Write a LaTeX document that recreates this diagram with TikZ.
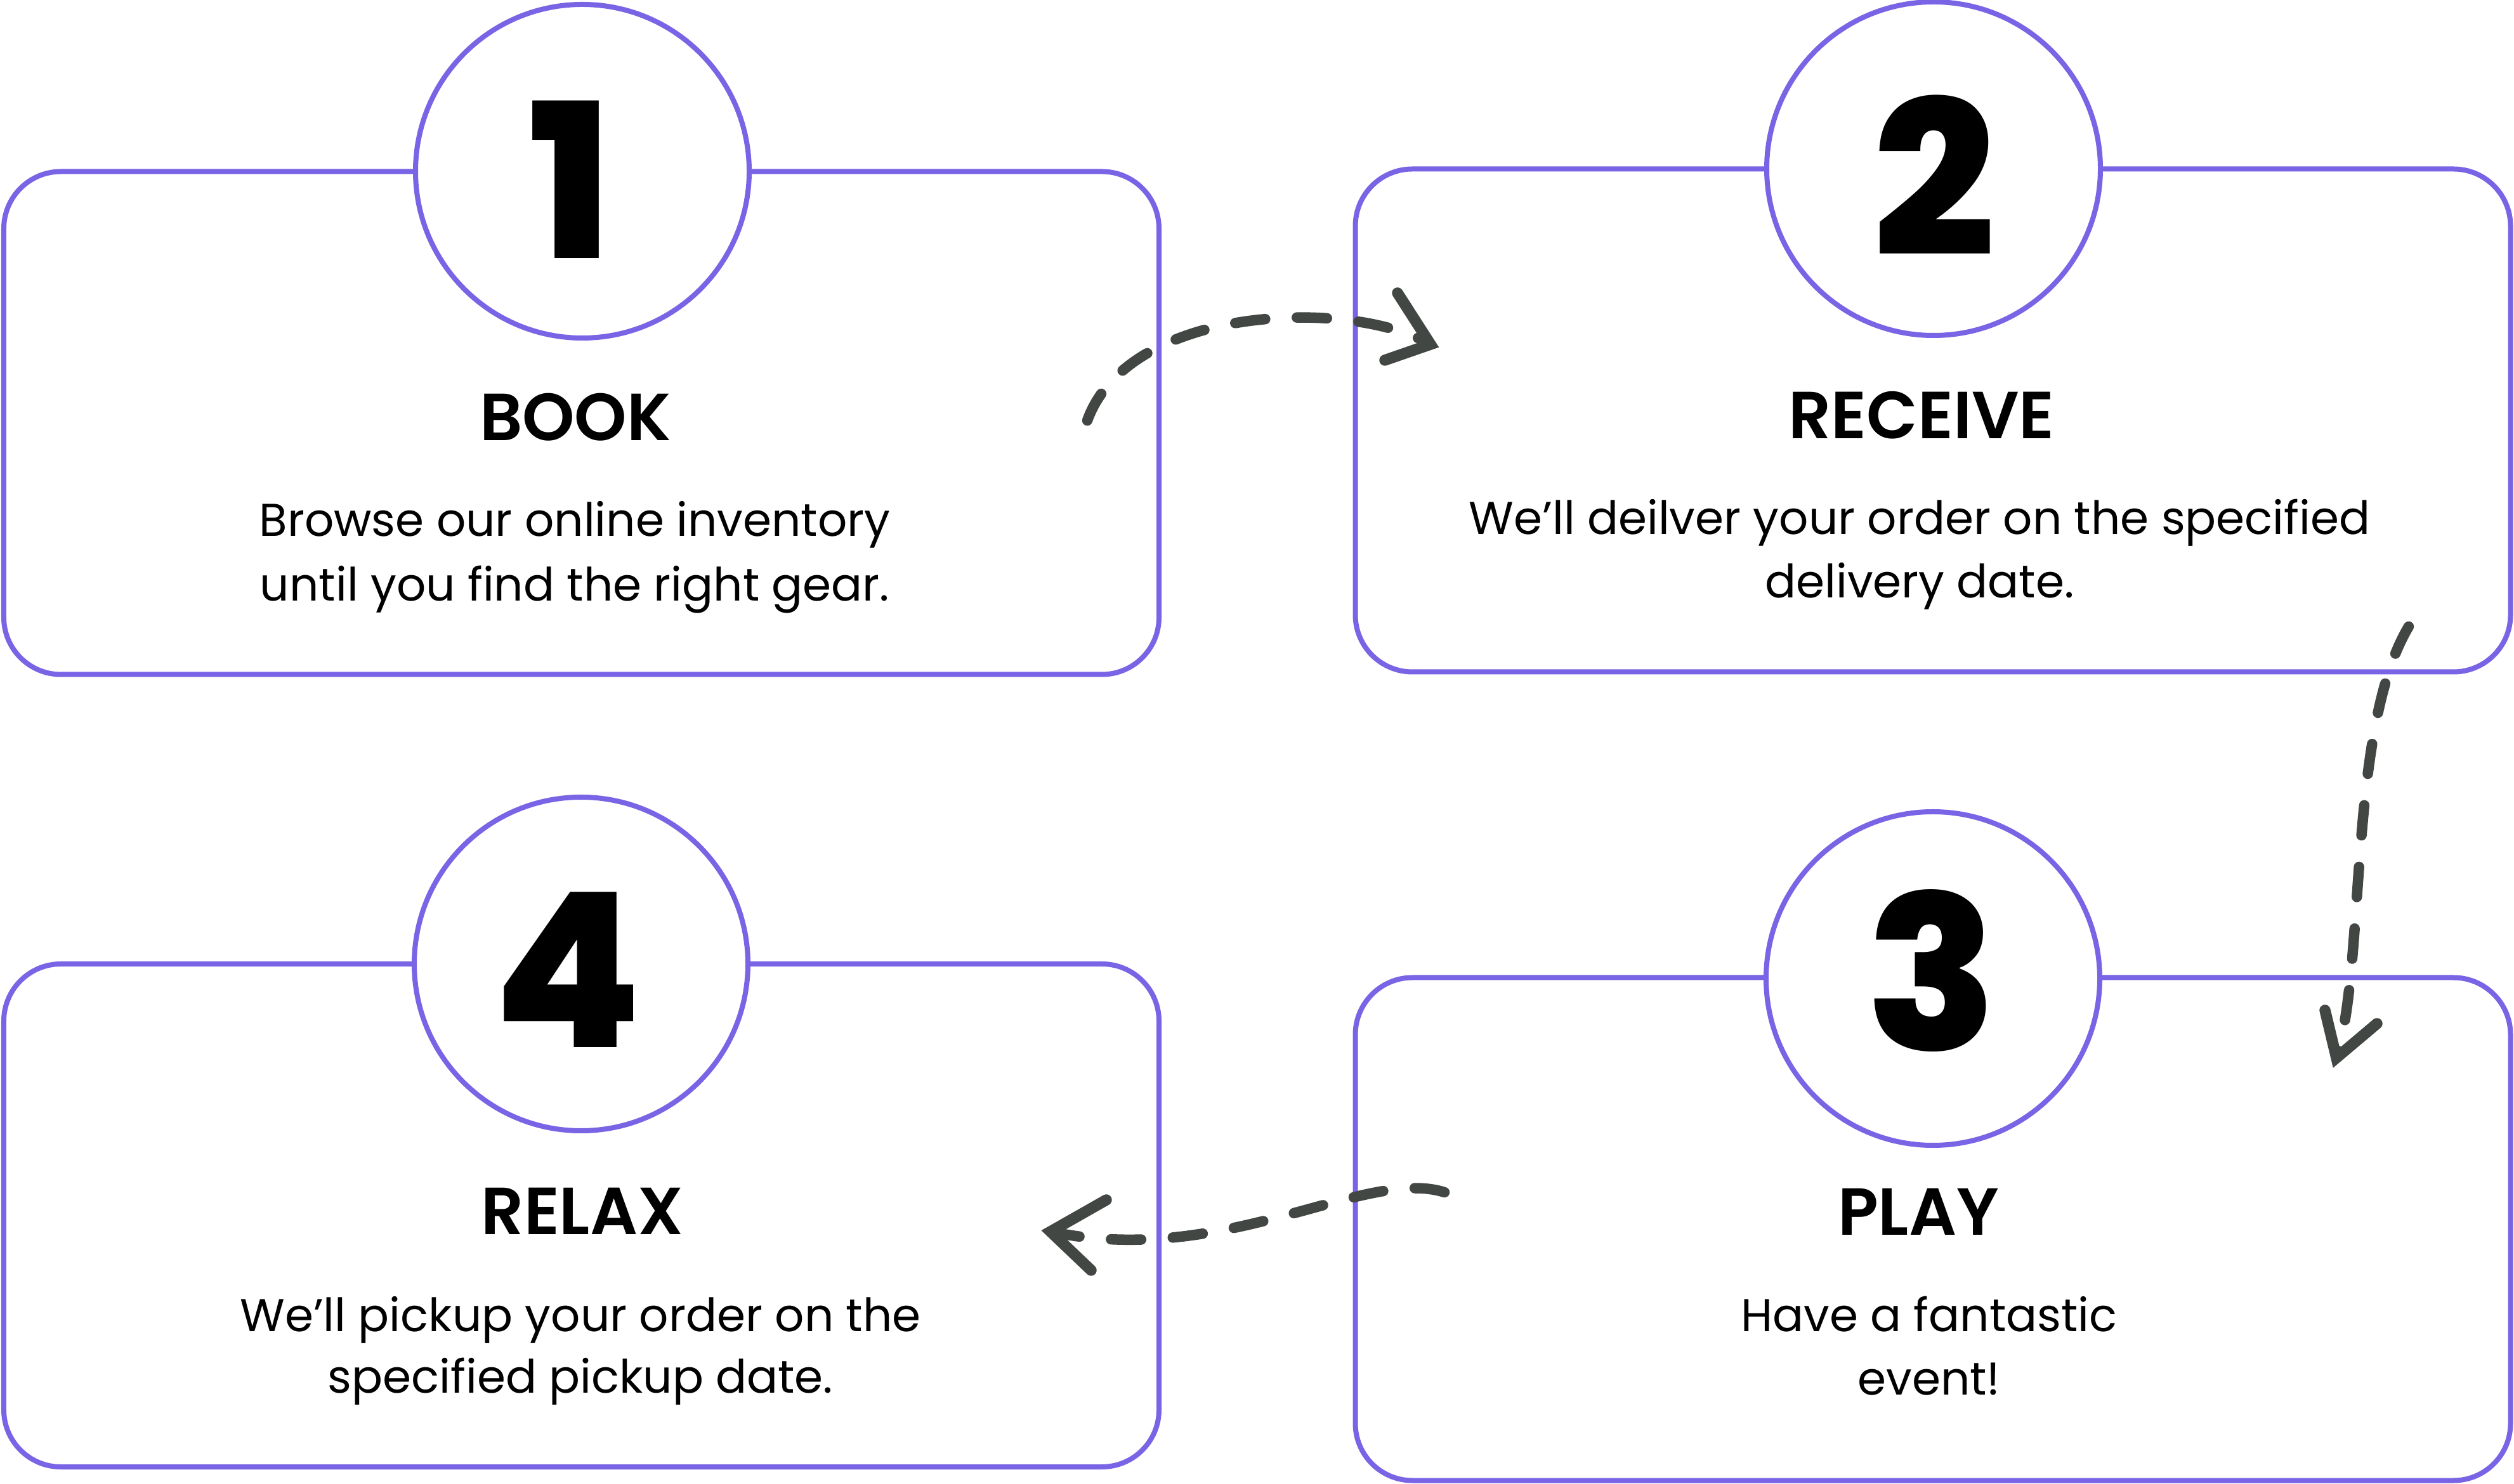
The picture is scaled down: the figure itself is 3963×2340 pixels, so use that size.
\documentclass[tikz,border=0pt]{standalone}
\usepackage{fontspec}
\setmainfont{Poppins}
\newfontfamily\numfont{Poppins ExtraBold}
\newfontfamily\titlefont{Poppins SemiBold}
\definecolor{boxpurple}{RGB}{120,100,228}
\definecolor{arrowgray}{RGB}{67,71,67}
\begin{document}
\begin{tikzpicture}[x=0.2pt,y=-0.2pt,
 card/.style={draw=boxpurple, line width=1.6pt, rounded corners=18pt, minimum width=364.2pt, minimum height=158.6pt, inner sep=0pt},
 badge/.style={circle, draw=boxpurple, fill=white, line width=1.6pt, minimum size=105.2pt, inner sep=0pt},
 numtxt/.style={anchor=base, inner sep=0pt, font=\numfont\fontsize{68}{68}\selectfont},
 titletxt/.style={anchor=base, inner sep=0pt, font=\titlefont\fontsize{21}{22}\selectfont},
 bodytxt/.style={anchor=base, inner sep=0pt, font=\fontsize{14.5}{20}\selectfont},
 flow/.style={draw=arrowgray, line width=3.3pt, line cap=round, dash pattern=on 9.5pt off 10pt},
 headline/.style={draw=arrowgray, line width=3.5pt, line cap=round, line join=miter},
]
\useasboundingbox[fill=white] (0,0) rectangle (3963,2340);

% cards
\node[card] (box1) at (916.5,667) {};
\node[card] (box2) at (3047,663) {};
\node[card] (box3) at (3047,1938) {};
\node[card] (box4) at (916.5,1916.5) {};

% badges
\node[badge] (c1) at (918,270) {};
\node[badge] (c2) at (3048,266) {};
\node[badge] (c3) at (3047,1543) {};
\node[badge] (c4) at (916,1520) {};

% numbers
\node[numtxt] (n1) at (899,408) {1};
\node[numtxt] (n2) at (3049,404) {2};
\node[numtxt] (n3) at (3045,1657) {3};
\node[numtxt] (n4) at (895,1652) {4};

% titles
\node[titletxt] (t1) at (907,695) {BOOK};
\node[titletxt] (t2) at (3029,692) {RECEIVE};
\node[titletxt] (t3) at (3024,1948) {PLAY};
\node[titletxt] (t4) at (918,1947) {RELAX};

% body text
\node[bodytxt] (b1a) at (906,846) {Browse our online inventory};
\node[bodytxt] (b1b) at (906,948) {until you find the right gear.};
\node[bodytxt] (b2a) at (3026,843) {We’ll deilver your order on the specified};
\node[bodytxt] (b2b) at (3026,943) {delivery date.};
\node[bodytxt] (b3a) at (3041,2100) {Have a fantastic};
\node[bodytxt] (b3b) at (3041,2200) {event!};
\node[bodytxt] (b4a) at (915,2099) {We’ll pickup your order on the};
\node[bodytxt] (b4b) at (915,2197) {specified pickup date.};

% arrow 1 -> 2
\coordinate (a1s) at (1714,663);
\coordinate (a1t) at (2255,543);
\coordinate (a1u) at (2203,462);
\coordinate (a1v) at (2183,568);
\draw[flow] (a1s) .. controls (1780,480) and (2130,470) .. (a1t);
\draw[headline] (a1u) -- (a1t) -- (a1v);

% arrow 2 -> 3
\coordinate (a2s) at (3797,988);
\coordinate (a2t) at (3683,1668);
\coordinate (a2u) at (3665,1593);
\coordinate (a2v) at (3747,1614);
\draw[flow] (a2s) .. controls (3700,1150) and (3730,1520) .. (a2t);
\draw[headline] (a2u) -- (a2t) -- (a2v);

% arrow 3 -> 4
\coordinate (a3s) at (2277,1880);
\coordinate (a3t) at (1656,1942);
\coordinate (a3u) at (1744,1892);
\coordinate (a3v) at (1720,2003);
\draw[flow] (a3s) .. controls (2150,1840) and (1930,2000) .. (a3t);
\draw[headline] (a3u) -- (a3t) -- (a3v);
\end{tikzpicture}
\end{document}
